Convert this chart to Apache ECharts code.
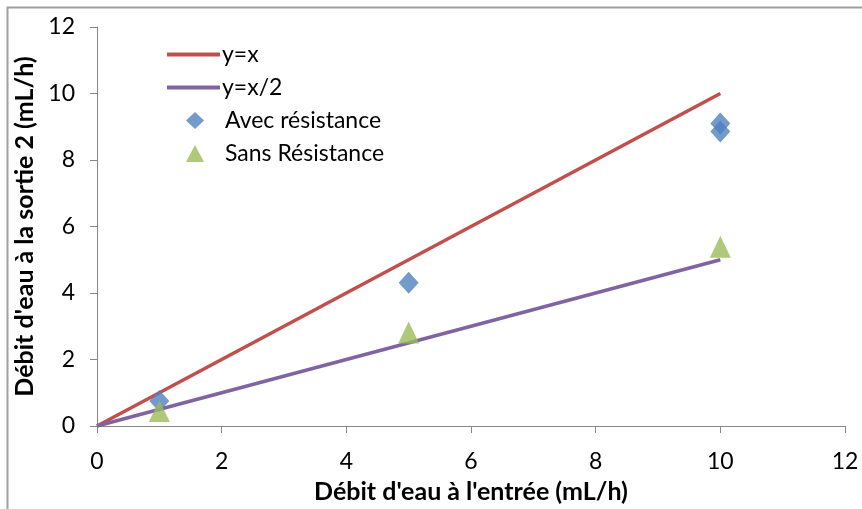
<!DOCTYPE html>
<html>
<head>
<meta charset="utf-8">
<script src="https://cdn.jsdelivr.net/npm/echarts@6/dist/echarts.min.js"></script>
<style>
  html, body { margin: 0; padding: 0; background: #fff; }
  #chart { width: 862px; height: 509px; }
</style>
</head>
<body>
<div id="chart"></div>
<script>
// Inlet flow (mL/h) and measured outlet-2 flow
const lineX = [0, 10];
const identityY = [0, 10];
const halfY = [0, 5];
const avecX = [1, 5, 10, 10];
const avecY = [0.75, 4.31, 9.1, 8.86];
const sansX = [1, 5, 10];
const sansY = [0.45, 2.81, 5.39];
const xTicks = [0, 2, 4, 6, 8, 10, 12];
const yTicks = [0, 2, 4, 6, 8, 10, 12];

const pairs = (xs, ys) => xs.map((x, i) => [x, ys[i]]);

const font = 'Lato, "Open Sans", sans-serif';
const axisColor = '#868686';
const legendText = { fontFamily: font, fontSize: 23, color: '#000', lineHeight: 23 };

const chart = echarts.init(document.getElementById('chart'), null, { renderer: 'canvas' });
chart.setOption({
  animation: false,
  backgroundColor: '#fff',
  graphic: [{
    type: 'rect',
    shape: { x: 7.5, y: 7.5, width: 900, height: 600 },
    style: { fill: 'none', stroke: '#a0a0a0', lineWidth: 2 },
    silent: true
  }],
  grid: { left: 97, right: 17, top: 27, bottom: 81, containLabel: false },
  legend: [
    {
      orient: 'vertical',
      left: 162,
      top: 38,
      itemWidth: 53,
      itemHeight: 4,
      itemGap: 10,
      icon: 'rect',
      textStyle: Object.assign({}, legendText, { padding: [0, 0, 0, -3] }),
      data: ['y=x', 'y=x/2']
    },
    {
      orient: 'vertical',
      left: 181,
      top: 104,
      itemWidth: 18,
      itemHeight: 17,
      itemGap: 10,
      textStyle: Object.assign({}, legendText, { padding: [0, 0, 0, 16] }),
      data: [
        { name: 'Avec résistance', icon: 'diamond' },
        { name: 'Sans Résistance', icon: 'triangle' }
      ]
    }
  ],
  xAxis: {
    type: 'value',
    min: xTicks[0],
    max: xTicks[xTicks.length - 1],
    interval: 2,
    name: "Débit d'eau à l'entrée (mL/h)",
    nameLocation: 'middle',
    nameGap: 53,
    nameTextStyle: { fontFamily: font, fontSize: 25, fontWeight: 'bold', color: '#000' },
    axisLine: { show: true, lineStyle: { color: axisColor, width: 1 } },
    axisTick: { show: true, inside: false, length: 7, lineStyle: { color: axisColor } },
    axisLabel: { fontFamily: font, fontSize: 23, color: '#000', margin: 24 },
    splitLine: { show: false }
  },
  yAxis: {
    type: 'value',
    min: yTicks[0],
    max: yTicks[yTicks.length - 1],
    interval: 2,
    name: "Débit d'eau à la sortie 2 (mL/h)",
    nameLocation: 'middle',
    nameGap: 52,
    nameRotate: 90,
    nameTextStyle: { fontFamily: font, fontSize: 25, fontWeight: 'bold', color: '#000' },
    axisLine: { show: true, lineStyle: { color: axisColor, width: 1 } },
    axisTick: { show: true, inside: false, length: 7, lineStyle: { color: axisColor } },
    axisLabel: { fontFamily: font, fontSize: 23, color: '#000', margin: 22 },
    splitLine: { show: false }
  },
  series: [
    {
      name: 'y=x',
      type: 'line',
      data: pairs(lineX, identityY),
      symbol: 'none',
      lineStyle: { color: '#C0504D', width: 3.5 },
      itemStyle: { color: '#C0504D' },
      z: 2
    },
    {
      name: 'y=x/2',
      type: 'line',
      data: pairs(lineX, halfY),
      symbol: 'none',
      lineStyle: { color: '#8064A2', width: 3.5 },
      itemStyle: { color: '#8064A2' },
      z: 2
    },
    {
      name: 'Avec résistance',
      type: 'scatter',
      data: pairs(avecX, avecY),
      symbol: 'diamond',
      symbolSize: [20, 22],
      itemStyle: { color: '#4F81BD' },
      z: 3
    },
    {
      name: 'Sans Résistance',
      type: 'scatter',
      data: pairs(sansX, sansY),
      symbol: 'triangle',
      symbolSize: [21, 22],
      itemStyle: { color: '#9BBB59' },
      z: 4
    }
  ]
});
</script>
</body>
</html>
